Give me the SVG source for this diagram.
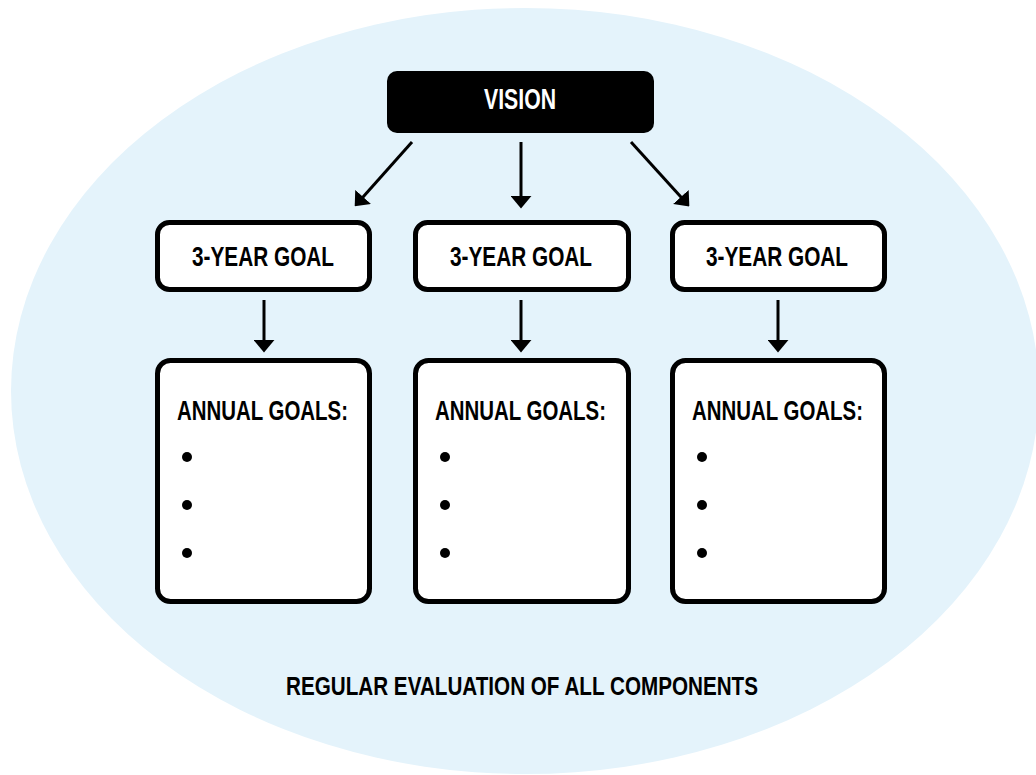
<svg xmlns="http://www.w3.org/2000/svg" width="1036" height="775" viewBox="0 0 1036 775">
<style>
.bg{fill:#E4F3FB}
.box{fill:#fff;stroke:#000;stroke-width:5}
.t{font-family:"Liberation Sans Narrow","Liberation Sans",Arial,sans-serif;font-weight:bold;fill:#000}
.w{fill:#fff}
.c{stroke:#000;stroke-width:3;fill:none}
</style>
<defs>
<marker id="ah" markerUnits="userSpaceOnUse" markerWidth="13" markerHeight="21" viewBox="0 0 12 20" refX="2" refY="10" orient="auto">
<path d="M0,0 L12,10 L0,20 Z" fill="#000"/>
</marker>
</defs>
<ellipse class="bg" cx="525" cy="391" rx="514" ry="383"/>
<g id="connectors">
<line class="c" x1="412" y1="142" x2="361.7" y2="198.5" marker-end="url(#ah)"/>
<line class="c" x1="521" y1="142" x2="521" y2="198" marker-end="url(#ah)"/>
<line class="c" x1="631" y1="142" x2="682.3" y2="198.6" marker-end="url(#ah)"/>
<line class="c" x1="264" y1="300" x2="264" y2="342" marker-end="url(#ah)"/>
<line class="c" x1="521" y1="300" x2="521" y2="342" marker-end="url(#ah)"/>
<line class="c" x1="778" y1="300" x2="778" y2="342" marker-end="url(#ah)"/>
</g>
<g id="vision">
<rect x="387" y="71" width="267" height="62" rx="10" fill="#000"/>
<text class="t w" x="520" y="109" font-size="29" text-anchor="middle" textLength="72" lengthAdjust="spacingAndGlyphs">VISION</text>
</g>
<g id="goal1">
<rect class="box" x="157.5" y="222.5" width="212" height="67" rx="12"/>
<text class="t" x="263" y="266" font-size="28" text-anchor="middle" textLength="142" lengthAdjust="spacingAndGlyphs">3-YEAR GOAL</text>
</g>
<g id="goal2">
<rect class="box" x="415.5" y="222.5" width="213" height="67" rx="12"/>
<text class="t" x="521" y="266" font-size="28" text-anchor="middle" textLength="142" lengthAdjust="spacingAndGlyphs">3-YEAR GOAL</text>
</g>
<g id="goal3">
<rect class="box" x="672.5" y="222.5" width="212" height="67" rx="12"/>
<text class="t" x="777" y="266" font-size="28" text-anchor="middle" textLength="142" lengthAdjust="spacingAndGlyphs">3-YEAR GOAL</text>
</g>
<g id="annual1">
<rect class="box" x="157.5" y="360.5" width="212" height="241" rx="13"/>
<text class="t" x="177" y="420" font-size="28" textLength="171" lengthAdjust="spacingAndGlyphs">ANNUAL GOALS:</text>
<circle cx="187" cy="457" r="5"/><circle cx="187" cy="505" r="5"/><circle cx="187" cy="553" r="5"/>
</g>
<g id="annual2">
<rect class="box" x="415.5" y="360.5" width="213" height="241" rx="13"/>
<text class="t" x="435" y="420" font-size="28" textLength="171" lengthAdjust="spacingAndGlyphs">ANNUAL GOALS:</text>
<circle cx="445" cy="457" r="5"/><circle cx="445" cy="505" r="5"/><circle cx="445" cy="553" r="5"/>
</g>
<g id="annual3">
<rect class="box" x="672.5" y="360.5" width="212" height="241" rx="13"/>
<text class="t" x="692" y="420" font-size="28" textLength="171" lengthAdjust="spacingAndGlyphs">ANNUAL GOALS:</text>
<circle cx="702" cy="457" r="5"/><circle cx="702" cy="505" r="5"/><circle cx="702" cy="553" r="5"/>
</g>
<g id="footer">
<text class="t" x="522" y="695" font-size="26" text-anchor="middle" textLength="472" lengthAdjust="spacingAndGlyphs">REGULAR EVALUATION OF ALL COMPONENTS</text>
</g>
</svg>
